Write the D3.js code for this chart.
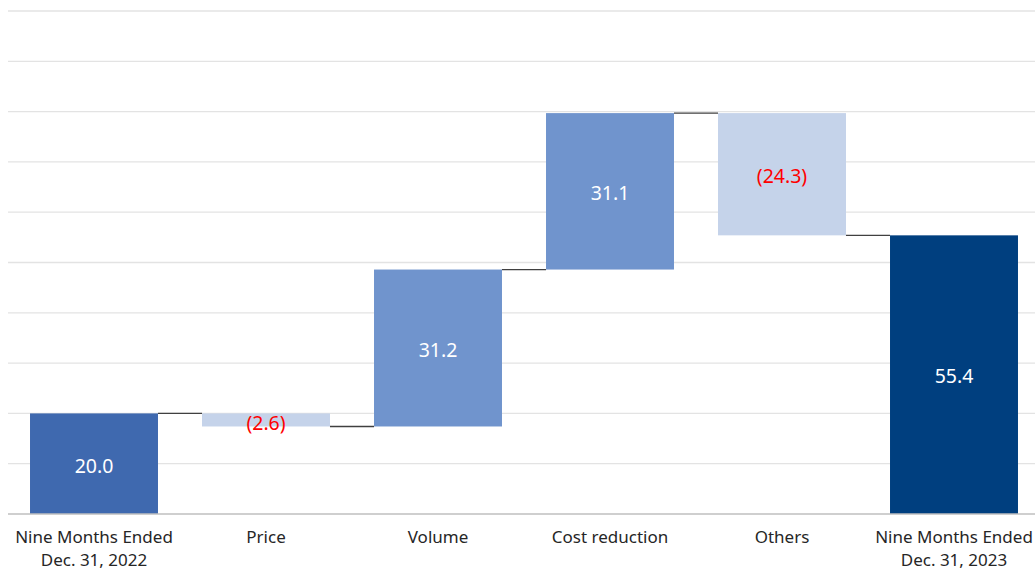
<!DOCTYPE html>
<html>
<head>
<meta charset="utf-8">
<script src="https://cdn.jsdelivr.net/npm/d3@7"></script>
<style>
  body { margin: 0; background: #fff; }
  text { font-family: "Segoe UI", "Noto Sans", sans-serif; }
</style>
</head>
<body>
<div id="chart"></div>
<script>
// data
const categories = [['Nine Months Ended', 'Dec. 31, 2022'], ['Price'], ['Volume'], ['Cost reduction'], ['Others'], ['Nine Months Ended', 'Dec. 31, 2023']];
const deltas = [20.0, -2.6, 31.2, 31.1, -24.3, 55.4];
const kinds = ['total', 'step', 'step', 'step', 'step', 'total'];
const yTicks = [0, 10, 20, 30, 40, 50, 60, 70, 80, 90, 100];

const width = 1035, height = 571;
const margin = { top: 11, right: -5, bottom: 57, left: 8 };

const svg = d3.select('#chart').append('svg')
    .attr('width', width)
    .attr('height', height);

const x = d3.scaleBand()
    .domain(d3.range(categories.length))
    .range([margin.left, width - margin.right])
    .paddingInner(0.256)
    .paddingOuter(0.128);

const y = d3.scaleLinear()
    .domain([0, 100])
    .range([height - margin.bottom, margin.top]);

// running totals for the waterfall
let running = 0;
const bars = deltas.map((d, i) => {
    let start, end;
    if (kinds[i] === 'total') { start = 0; end = d; }
    else { start = running; end = running + d; }
    running = end;
    return { i, value: d, start, end, kind: kinds[i] };
});

const colorFor = (b) => {
    if (b.i === 0) return '#3F69AF';
    if (b.kind === 'total') return '#003F7F';
    return b.value < 0 ? '#C5D3EA' : '#7094CD';
};

// gridlines
svg.append('g').selectAll('line')
    .data(yTicks.slice(1))
    .enter().append('line')
    .attr('x1', margin.left)
    .attr('x2', width)
    .attr('y1', d => y(d))
    .attr('y2', d => y(d))
    .attr('stroke', '#E3E3E3')
    .attr('stroke-width', 1.3);

// bars
svg.append('g').selectAll('rect')
    .data(bars)
    .enter().append('rect')
    .attr('x', d => x(d.i))
    .attr('width', x.bandwidth())
    .attr('y', d => y(Math.max(d.start, d.end)))
    .attr('height', d => Math.abs(y(d.start) - y(d.end)))
    .attr('fill', colorFor);

// connectors
svg.append('g').selectAll('line')
    .data(bars.slice(0, -1))
    .enter().append('line')
    .attr('x1', d => x(d.i) + x.bandwidth())
    .attr('x2', d => x(d.i + 1))
    .attr('y1', d => y(d.end))
    .attr('y2', d => y(d.end))
    .attr('stroke', '#404040')
    .attr('stroke-width', 1.3);

// baseline
svg.append('line')
    .attr('x1', margin.left)
    .attr('x2', width)
    .attr('y1', y(0))
    .attr('y2', y(0))
    .attr('stroke', '#BFBFBF')
    .attr('stroke-width', 1.3);

// value labels
const fmt = v => v < 0 ? '(' + Math.abs(v).toFixed(1) + ')' : v.toFixed(1);
svg.append('g').selectAll('text')
    .data(bars)
    .enter().append('text')
    .attr('x', d => x(d.i) + x.bandwidth() / 2)
    .attr('y', d => (y(d.start) + y(d.end)) / 2 + (Math.abs(d.value) < 5 ? 3 : 2))
    .attr('dy', '0.35em')
    .attr('text-anchor', 'middle')
    .attr('font-size', 19.5)
    .attr('fill', d => d.value < 0 ? '#FF0000' : '#FFFFFF')
    .text(d => fmt(d.value));

// category labels
const labels = svg.append('g').selectAll('text')
    .data(categories)
    .enter().append('text')
    .attr('text-anchor', 'middle')
    .attr('font-size', 17)
    .attr('fill', '#262626')
    .attr('transform', (d, i) => `translate(${x(i) + x.bandwidth() / 2},${y(0) + 29})`);

labels.selectAll('tspan')
    .data(d => d)
    .enter().append('tspan')
    .attr('x', 0)
    .attr('dy', (d, j) => j === 0 ? 0 : 23)
    .text(d => d);
</script>
</body>
</html>
